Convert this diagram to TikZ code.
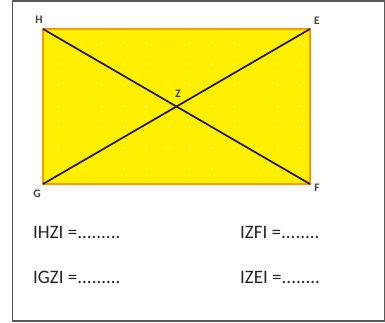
\documentclass[tikz,border=0pt]{standalone}
\usepackage{fontspec}
\setmainfont{Carlito}
\begin{document}
\begin{tikzpicture}[x=1pt,y=-1pt,
  corner/.style={font=\fontsize{11.5}{11.5}\selectfont\bfseries, text=black!75, inner sep=0pt},
  eqlabel/.style={font=\fontsize{19}{19}\selectfont, text=black!85, anchor=west, inner sep=0pt},
  diag/.style={draw=black!85!orange, line width=1.7pt}]
\useasboundingbox (0,0) rectangle (385,322);
\fill[white] (0,0) rectangle (385,322);
\draw[black!65, line width=1.2pt] (12.5,1) rectangle (384.5,321);
% rectangle
\fill[yellow!97!orange] (43,29) rectangle (310,184);
% faint dot grid
\foreach \i in {0,...,11} {
  \foreach \j in {0,...,6} {
    \fill[yellow!70!white] (58+22*\i,43+21*\j) circle (1.1);
  }
}
\draw[orange!80!yellow, line width=1.2pt] (43,29) rectangle (310,184);
\coordinate (H) at (43,29);
\coordinate (E) at (310,29);
\coordinate (F) at (310,184);
\coordinate (G) at (43,184);
\coordinate (Z) at (176.5,106.5);
\draw[diag] (H) -- (F);
\draw[diag] (G) -- (E);
\node[corner] (lH) at (39,20) {H};
\node[corner] (lE) at (317,21) {E};
\node[corner] (lG) at (37,194) {G};
\node[corner] (lF) at (317,188) {F};
\node[corner] (lZ) at (178,94) {Z};
\node[eqlabel] (t1) at (33,232) {IHZI =.........};
\node[eqlabel] (t2) at (33,277) {IGZI =.........};
\node[eqlabel] (t3) at (240,232) {IZFI =........};
\node[eqlabel] (t4) at (240,277) {IZEI =........};
\end{tikzpicture}
\end{document}
